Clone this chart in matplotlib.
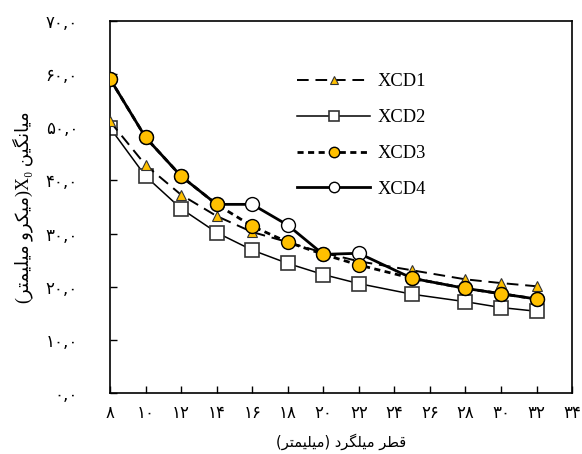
import numpy as np
import matplotlib
matplotlib.use('Agg')
from matplotlib import pyplot as plt

# rebar diameters (mm) and mean X0 per model
diameters = [8, 10, 12, 14, 16, 18, 20, 22, 25, 28, 30, 32]
xcd1 = [51.1, 42.9, 37.3, 33.3, 30.3, 28.4, 26.4, 24.8, 23.1, 21.4, 20.7, 20.1]
xcd2 = [49.9, 40.8, 34.7, 30.2, 26.9, 24.4, 22.3, 20.6, 18.6, 17.2, 16.1, 15.4]
xcd3 = [59.1, 48.1, 40.8, 35.5, 31.4, 28.4, 26.1, 24.1, 21.6, 19.7, 18.7, 17.7]
xcd4 = [59.1, 48.1, 40.8, 35.5, 35.5, 31.6, 26.1, 26.3, 21.6, 19.7, 18.7, 17.7]
series_names = ['XCD1', 'XCD2', 'XCD3', 'XCD4']

x_ticks = list(range(8, 35, 2))
y_ticks = list(range(0, 71, 10))

####################################
#   persian text (presentation forms, visual order)
####################################
fa_digits = '۰۱۲۳۴۵۶۷۸۹'

def fa_num(s):
    return ''.join(fa_digits[int(c)] if c.isdigit() else c for c in s)

def vis(codes):
    # glyphs are given in logical order, shown left to right reversed
    return ''.join(chr(c) for c in reversed(codes))

w_miangin = vis([0xFEE3, 0xFEF4, 0xFE8E, 0xFEE7, 0xFB95, 0xFEF4, 0xFEE6])
w_mikro = vis([0xFEE3, 0xFEF4, 0xFB91, 0xFEAE, 0xFEED])
w_milimetr = vis([0xFEE3, 0xFEF4, 0xFEE0, 0xFEF4, 0xFEE4, 0xFE98, 0xFEAE])
w_ghotr = vis([0xFED7, 0xFEC4, 0xFEAE])
w_milgerd = vis([0xFEE3, 0xFEF4, 0xFEE0, 0xFB95, 0xFEAE, 0xFEA9])

xlabel = '(' + w_milimetr + ') ' + w_milgerd + ' ' + w_ghotr
ylabel = '(' + w_milimetr + ' ' + w_mikro + ')X\u2080 ' + w_miangin

gold = '#FFC000'

fig = plt.figure(figsize=(5.82, 4.54), dpi=100)
ax = fig.add_axes([0.189, 0.134, 0.794, 0.820])

ax.plot(diameters, xcd2, color='black', lw=1.1, marker='s', ms=9.5,
        mfc='white', mec='#333333', mew=1.2, label=series_names[1], zorder=2)
ax.plot(diameters, xcd1, color='black', lw=1.4, ls=(0, (6, 3.5)), marker='^', ms=7.5,
        mfc=gold, mec='#333333', mew=0.8, label=series_names[0], zorder=3)
ax.plot(diameters, xcd4, color='black', lw=2.0, marker='o', ms=10,
        mfc='white', mec='black', mew=1.0, label=series_names[3], zorder=4)
ax.plot(diameters, xcd3, color='black', lw=2.0, ls=(0, (2.2, 1.6)), marker='o', ms=10,
        mfc=gold, mec='black', mew=1.0, label=series_names[2], zorder=5)

ax.set_xlim(8, 34)
ax.set_ylim(0, 70)
ax.set_xticks(x_ticks)
ax.set_yticks(y_ticks)
ax.set_xticklabels([fa_num(str(v)) for v in x_ticks], family='DejaVu Sans', fontsize=12)
ax.set_yticklabels([fa_num('%d,0' % v) for v in y_ticks], family='DejaVu Sans', fontsize=12)
ax.tick_params(axis='x', direction='in', length=5, pad=8, width=1)
ax.tick_params(axis='y', direction='in', length=5, pad=23, width=1)
for sp in ax.spines.values():
    sp.set_linewidth(1.2)
    sp.set_color('black')

ax.set_xlabel(xlabel, family='DejaVu Sans', fontsize=10.5, labelpad=8)
ax.set_ylabel(ylabel, family=['Liberation Serif', 'DejaVu Sans'], fontsize=13, labelpad=9)

h, l = ax.get_legend_handles_labels()
order = [l.index(n) for n in series_names]
fig.legend([h[i] for i in order], [l[i] for i in order], loc='upper left',
           bbox_to_anchor=(0.481, 0.875), frameon=False, handlelength=4.0,
           labelspacing=1.02, markerscale=0.75, handletextpad=0.4,
           prop={'family': 'Liberation Serif', 'size': 13.3})

fig.savefig('out.png', dpi=100)
